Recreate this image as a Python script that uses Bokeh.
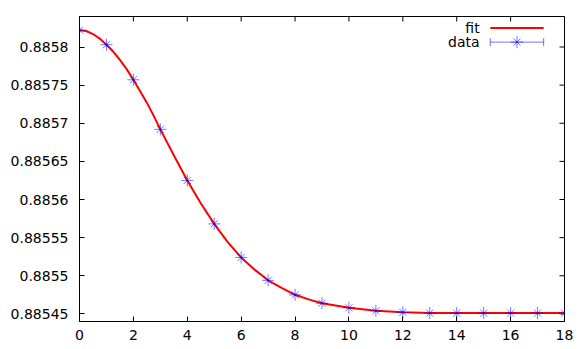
import math
from bokeh.plotting import figure
from bokeh.models import Range1d, FixedTicker, CustomJSTickFormatter
from bokeh.embed import file_html
from bokeh.resources import INLINE
from bokeh.core.properties import value

# ---- data ----
x_data = list(range(19))
y_data = [0.885822, 0.885803, 0.885757, 0.885692, 0.885625, 0.885568, 0.885524,
          0.885494, 0.885475, 0.885464, 0.885458, 0.885454, 0.885452, 0.885451,
          0.885451, 0.885451, 0.885451, 0.885451, 0.885451]

x_fit = [0, 0.25, 0.5, 0.75, 1, 1.25, 1.5, 1.75, 2, 2.25, 2.5, 2.75, 3, 3.5, 4,
         4.5, 5, 5.5, 6, 6.5, 7, 7.5, 8, 8.5, 9, 9.5, 10, 10.5, 11, 11.5, 12,
         13, 14, 15, 16, 17, 18]
y_fit = [0.885822, 0.885821, 0.885817, 0.885811, 0.885803, 0.885794, 0.885783,
         0.885771, 0.885757, 0.885742, 0.885727, 0.885710, 0.885692, 0.885658,
         0.885625, 0.885595, 0.885568, 0.885544, 0.885524, 0.885508, 0.885494,
         0.885484, 0.885475, 0.885469, 0.885464, 0.885461, 0.885458, 0.885456,
         0.885454, 0.885453, 0.885452, 0.885451, 0.885451, 0.885451, 0.885451,
         0.885451, 0.885451]

x_ticks = [0, 2, 4, 6, 8, 10, 12, 14, 16, 18]
y_ticks = [0.88545, 0.8855, 0.88555, 0.8856, 0.88565, 0.8857, 0.88575, 0.8858]

X_MIN, X_MAX = 0, 18
Y_MIN, Y_MAX = 0.88544, 0.88584

FONT = "DejaVu Sans"
FS = "14px"
STAR = "#0000ff"

p = figure(width=575, height=348, output_backend="svg", toolbar_location=None,
           x_range=Range1d(X_MIN, X_MAX), y_range=Range1d(Y_MIN, Y_MAX),
           min_border_left=79, min_border_right=11, min_border_top=16,
           min_border_bottom=27)
p.grid.visible = False
p.outline_line_color = "black"
p.outline_line_alpha = 1
p.outline_line_width = 1
p.background_fill_color = "white"
p.border_fill_color = "white"

p.xaxis.ticker = FixedTicker(ticks=x_ticks)
p.yaxis.ticker = FixedTicker(ticks=y_ticks)
p.yaxis.formatter = CustomJSTickFormatter(
    code="return parseFloat(tick.toFixed(5)).toString();")
for ax in (p.xaxis[0], p.yaxis[0]):
    ax.axis_line_color = "black"
    ax.major_tick_line_color = "black"
    ax.major_tick_in = 5
    ax.major_tick_out = 0
    ax.minor_tick_line_color = None
    ax.major_label_text_font = FONT
    ax.major_label_text_font_size = FS
    ax.major_label_text_color = "black"
p.yaxis.major_label_standoff = 11
p.xaxis.major_label_standoff = 8

# mirrored inward ticks on the right and top borders
p.scatter([X_MAX] * len(y_ticks), y_ticks, marker="dash", size=10,
          line_color="black", line_width=1)
p.scatter(x_ticks, [Y_MAX] * len(x_ticks), marker="dash", angle=math.pi / 2,
          size=10, line_color="black", line_width=1)

# fit line
p.line(x_fit, y_fit, line_color="#ff0000", line_width=2)
# data points: gnuplot-like star (+ and x combined)
p.scatter(x_data, y_data, marker="cross", size=12, line_color=STAR,
          line_alpha=0.55, line_width=1)
p.scatter(x_data, y_data, marker="x", size=10, line_color=STAR,
          line_alpha=0.55, line_width=1)

# ---- key (gnuplot style: label then sample) ----
def fx(f):
    return X_MIN + f * (X_MAX - X_MIN)

def fy(f):
    return Y_MIN + f * (Y_MAX - Y_MIN)

key_text_x = fx(0.825)
key_s0, key_s1, key_mid = fx(0.847), fx(0.957), fx(0.902)
row1, row2 = fy(0.962), fy(0.916)

p.text([key_text_x], [row1], text=["fit"], text_align="right",
       text_baseline="middle", text_font=value(FONT), text_font_size=FS,
       text_color="black")
p.text([key_text_x], [row2], text=["data"], text_align="right",
       text_baseline="middle", text_font=value(FONT), text_font_size=FS,
       text_color="black")
p.line([key_s0, key_s1], [row1, row1], line_color="#ff0000", line_width=2)
p.line([key_s0, key_s1], [row2, row2], line_color=STAR, line_alpha=0.55,
       line_width=1)
p.scatter([key_s0, key_s1], [row2, row2], marker="dash", angle=math.pi / 2,
          size=8, line_color=STAR, line_alpha=0.55, line_width=1)
p.scatter([key_mid], [row2], marker="cross", size=12, line_color=STAR,
          line_alpha=0.55, line_width=1)
p.scatter([key_mid], [row2], marker="x", size=10, line_color=STAR,
          line_alpha=0.55, line_width=1)

open("out.html", "w").write(file_html(p, INLINE))
